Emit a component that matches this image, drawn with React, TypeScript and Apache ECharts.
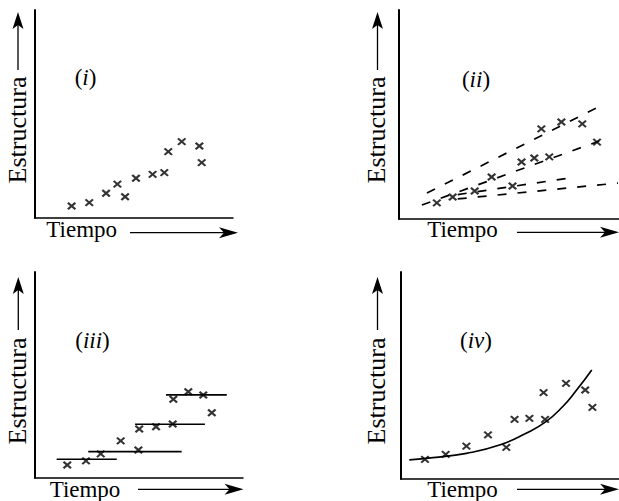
import React, { useEffect, useRef } from "react";
import * as echarts from "echarts";

// Panel (i): scattered observations
const p1Time = [1.85, 2.74, 3.59, 4.16, 4.55, 5.1, 5.94, 6.53, 6.73, 7.41, 8.3, 8.42];
const p1Struct = [0.58, 0.74, 1.19, 1.63, 1.02, 1.91, 2.1, 2.18, 3.19, 3.67, 3.46, 2.66];

// Panel (ii): observations and four dashed linear trends
const p2Time = [1.72, 2.44, 3.44, 4.21, 5.16, 5.57, 6.15, 6.83, 6.47, 7.38, 8.33, 9.0];
const p2Struct = [0.77, 1.05, 1.34, 2.01, 1.58, 2.73, 2.92, 2.97, 4.31, 4.64, 4.55, 3.68];
const trendStartTime = [1.27, 1.04, 2.67, 2.67];
const trendStartStruct = [1.24, 0.67, 1.17, 0.96];
const trendEndTime = [9.23, 9.1, 8.05, 9.95];
const trendEndStruct = [5.45, 3.73, 2.01, 1.72];

// Panel (iii): observations and step levels
const p3Time = [1.55, 2.45, 3.16, 4.12, 4.97, 5.01, 5.82, 6.62, 6.65, 7.37, 8.09, 8.5];
const p3Struct = [0.63, 0.83, 1.17, 1.8, 1.36, 2.38, 2.49, 2.62, 3.82, 4.19, 4.03, 3.17];
const stepLevel = [0.91, 1.28, 2.61, 4.04];
const stepStart = [1.04, 2.56, 4.81, 6.3];
const stepEnd = [3.93, 7.05, 8.17, 9.22];

// Panel (iv): observations and a rising curve
const p4Time = [1.1, 2.05, 3.0, 3.99, 4.83, 5.21, 5.89, 6.61, 6.54, 7.57, 8.45, 8.78];
const p4Struct = [0.95, 1.19, 1.59, 2.13, 1.53, 2.88, 2.93, 2.88, 4.17, 4.62, 4.3, 3.46];
const curveTime = [0.38, 1.47, 3.0, 4.52, 5.74, 6.65, 7.41, 8.02, 8.75];
const curveStruct = [0.92, 1.03, 1.24, 1.64, 2.21, 2.77, 3.49, 4.25, 5.27];

const panelTags = ["i", "ii", "iii", "iv"];
const yAxisTitle = "Estructura";
const xAxisTitle = "Tiempo";

const SERIF = "'Liberation Serif', 'Times New Roman', serif";
const INK = "#000";
const CROSS = "path://M0,0L10,10M10,0L0,10";

function pairs(xs: number[], ys: number[]) {
  return xs.map((x, i) => [x, ys[i]]);
}

function scatter(idx: number, xs: number[], ys: number[]) {
  return {
    type: "scatter",
    xAxisIndex: idx,
    yAxisIndex: idx,
    data: pairs(xs, ys),
    symbol: CROSS,
    symbolSize: [7.5, 6.5],
    itemStyle: { color: "transparent", borderColor: INK, borderWidth: 2.1 },
    z: 5,
  };
}

function segment(idx: number, data: number[][], dashed: boolean, smooth: number | boolean = false) {
  return {
    type: "line",
    xAxisIndex: idx,
    yAxisIndex: idx,
    data,
    smooth,
    showSymbol: false,
    symbol: "none",
    lineStyle: { color: INK, width: 1.7, type: dashed ? [9, 11] : "solid" },
    z: 3,
  };
}

function yArrow(x: number, tipY: number, lineEnd: number, textCenterY: number) {
  return [
    { type: "line", shape: { x1: x, y1: tipY + 12, x2: x, y2: lineEnd }, style: { stroke: INK, lineWidth: 1.3 } },
    {
      type: "polygon",
      shape: { points: [[x, tipY], [x + 5.5, tipY + 17], [x, tipY + 13], [x - 5.5, tipY + 17]] },
      style: { fill: INK },
    },
    {
      type: "text",
      x: x - 1,
      y: textCenterY,
      rotation: Math.PI / 2,
      style: {
        text: yAxisTitle,
        fontFamily: SERIF,
        fontSize: 26,
        fill: INK,
        align: "center",
        verticalAlign: "middle",
      },
    },
  ];
}

function xArrow(textCenterX: number, textY: number, y: number, startX: number, tipX: number) {
  return [
    {
      type: "text",
      x: textCenterX,
      y: textY,
      style: {
        text: xAxisTitle,
        fontFamily: SERIF,
        fontSize: 23,
        fill: INK,
        align: "center",
        verticalAlign: "middle",
      },
    },
    { type: "line", shape: { x1: startX, y1: y, x2: tipX - 12, y2: y }, style: { stroke: INK, lineWidth: 1.3 } },
    {
      type: "polygon",
      shape: { points: [[tipX, y], [tipX - 19, y - 5.5], [tipX - 14, y], [tipX - 19, y + 5.5]] },
      style: { fill: INK },
    },
  ];
}

function tag(i: number, cx: number, cy: number) {
  return {
    type: "text",
    x: cx,
    y: cy,
    style: {
      text: `{n|(}{it|${panelTags[i]}}{n|)}`,
      align: "center",
      verticalAlign: "middle",
      rich: {
        n: { fontFamily: SERIF, fontSize: 23, fill: INK },
        it: { fontFamily: SERIF, fontSize: 23, fontStyle: "italic", fill: INK },
      },
    },
  };
}

export default function App() {
  const ref = useRef<HTMLDivElement>(null);

  useEffect(() => {
    if (!ref.current) return;
    const chart = echarts.init(ref.current, undefined, { renderer: "svg" });

    const grids = [
      { left: 35, top: 10, width: 198, height: 208 },
      { left: 399, top: 10, width: 221, height: 209 },
      { left: 35, top: 272, width: 208, height: 206 },
      { left: 401, top: 272, width: 219, height: 207 },
    ];

    const xAxes = grids.map((_, i) => ({
      type: "value",
      gridIndex: i,
      min: 0,
      max: 10,
      axisLine: { show: true, onZero: false, lineStyle: { color: INK, width: 1.5 } },
      axisTick: { show: false },
      axisLabel: { show: false },
      splitLine: { show: false },
    }));
    const yAxes = grids.map((_, i) => ({
      type: "value",
      gridIndex: i,
      min: 0,
      max: 10,
      axisLine: { show: true, onZero: false, lineStyle: { color: INK, width: 2 } },
      axisTick: { show: false },
      axisLabel: { show: false },
      splitLine: { show: false },
    }));

    const trendSeries = trendStartTime.map((t, i) =>
      segment(1, [[t, trendStartStruct[i]], [trendEndTime[i], trendEndStruct[i]]], true)
    );
    const stepSeries = stepLevel.map((lv, i) => segment(2, [[stepStart[i], lv], [stepEnd[i], lv]], false));

    const graphic = [
      ...yArrow(18, 12, 70, 130),
      ...yArrow(377.5, 12, 70, 130),
      ...yArrow(18.3, 277, 330, 391),
      ...yArrow(377.5, 277, 330, 391),
      ...xArrow(81.7, 229, 232.7, 130, 238),
      ...xArrow(462.5, 229, 232.3, 517, 619),
      ...xArrow(85, 489, 489.3, 138, 243.5),
      ...xArrow(462.5, 489, 489.3, 517, 619),
      tag(0, 85.5, 77),
      tag(1, 476, 79.5),
      tag(2, 92.5, 340),
      tag(3, 476, 340),
    ];

    chart.setOption({
      animation: false,
      backgroundColor: "#fff",
      grid: grids,
      xAxis: xAxes,
      yAxis: yAxes,
      graphic,
      series: [
        scatter(0, p1Time, p1Struct),
        scatter(1, p2Time, p2Struct),
        ...trendSeries,
        scatter(2, p3Time, p3Struct),
        ...stepSeries,
        scatter(3, p4Time, p4Struct),
        segment(3, pairs(curveTime, curveStruct), false, 0.5),
      ],
    });

    return () => chart.dispose();
  }, []);

  return (
    <div
      ref={ref}
      style={{ position: "fixed", left: 0, top: 0, width: 619, height: 501, background: "#fff" }}
    />
  );
}
